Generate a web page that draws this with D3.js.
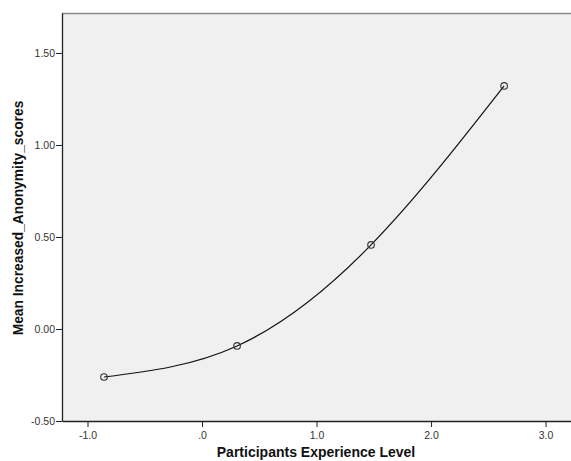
<!DOCTYPE html>
<html><head><meta charset="utf-8">
<script src="https://cdn.jsdelivr.net/npm/d3@7"></script>
<style>body{margin:0;background:#fff}svg{display:block}text{font-family:"Liberation Sans",Arial,sans-serif}</style>
</head><body>
<svg id="c" width="571" height="461"></svg>
<script>
const xValues = [-0.856, 0.306, 1.476, 2.638];
const yValues = [-0.261, -0.092, 0.457, 1.321];
const xTicks = [-1, 0, 1, 2, 3];
const xTickLabels = ["-1.0", ".0", "1.0", "2.0", "3.0"];
const yTicks = [-0.5, 0, 0.5, 1.0, 1.5];
const yTickLabels = ["-0.50", "0.00", "0.50", "1.00", "1.50"];

const svg = d3.select("#c");
const L = 62, R = 571, T = 13, B = 421;
const x = d3.scaleLinear().domain([-1.2227, 3.222]).range([L, R]);
const y = d3.scaleLinear().domain([-0.5, 1.7174]).range([B, T]);

svg.append("rect").attr("x", L).attr("y", T).attr("width", R - L).attr("height", B - T).attr("fill", "#f0f0f0");
svg.append("line").attr("x1", L).attr("x2", R).attr("y1", T + 0.5).attr("y2", T + 0.5).attr("stroke", "#888").attr("stroke-width", 1.5);

const xAxis = svg.append("g").attr("transform", `translate(0,${B})`)
  .call(d3.axisBottom(x).tickValues(xTicks).tickFormat((d, i) => xTickLabels[i]).tickSize(6).tickSizeOuter(0));
const yAxis = svg.append("g").attr("transform", `translate(${L},0)`)
  .call(d3.axisLeft(y).tickValues(yTicks).tickFormat((d, i) => yTickLabels[i]).tickSize(6).tickSizeOuter(0));
[xAxis, yAxis].forEach(g => {
  g.select(".domain").attr("stroke", "#222").attr("stroke-width", 1.3);
  g.selectAll(".tick line").attr("stroke", "#222");
  g.selectAll(".tick text").attr("fill", "#333").style("font-size", "10.5px");
});
xAxis.selectAll(".tick text").attr("dy", "0.9em");
yAxis.selectAll(".tick text").attr("x", -7);

const pts = xValues.map((v, i) => [x(v), y(yValues[i])]);
svg.append("path").attr("d", d3.line().curve(d3.curveNatural)(pts))
  .attr("fill", "none").attr("stroke", "#111").attr("stroke-width", 1.2);
svg.selectAll("circle.p").data(pts).enter().append("circle").attr("class", "p")
  .attr("cx", d => d[0]).attr("cy", d => d[1]).attr("r", 3.3)
  .attr("fill", "none").attr("stroke", "#333").attr("stroke-width", 1.1);

svg.append("text").attr("x", 316).attr("y", 457).attr("text-anchor", "middle")
  .style("font-size", "14px").style("font-weight", "bold").attr("fill", "#111")
  .text("Participants Experience Level");
svg.append("text").attr("transform", "translate(23,218) rotate(-90)").attr("text-anchor", "middle")
  .style("font-size", "13.8px").style("font-weight", "bold").attr("fill", "#111")
  .text("Mean Increased_Anonymity_scores");
</script>
</body></html>
